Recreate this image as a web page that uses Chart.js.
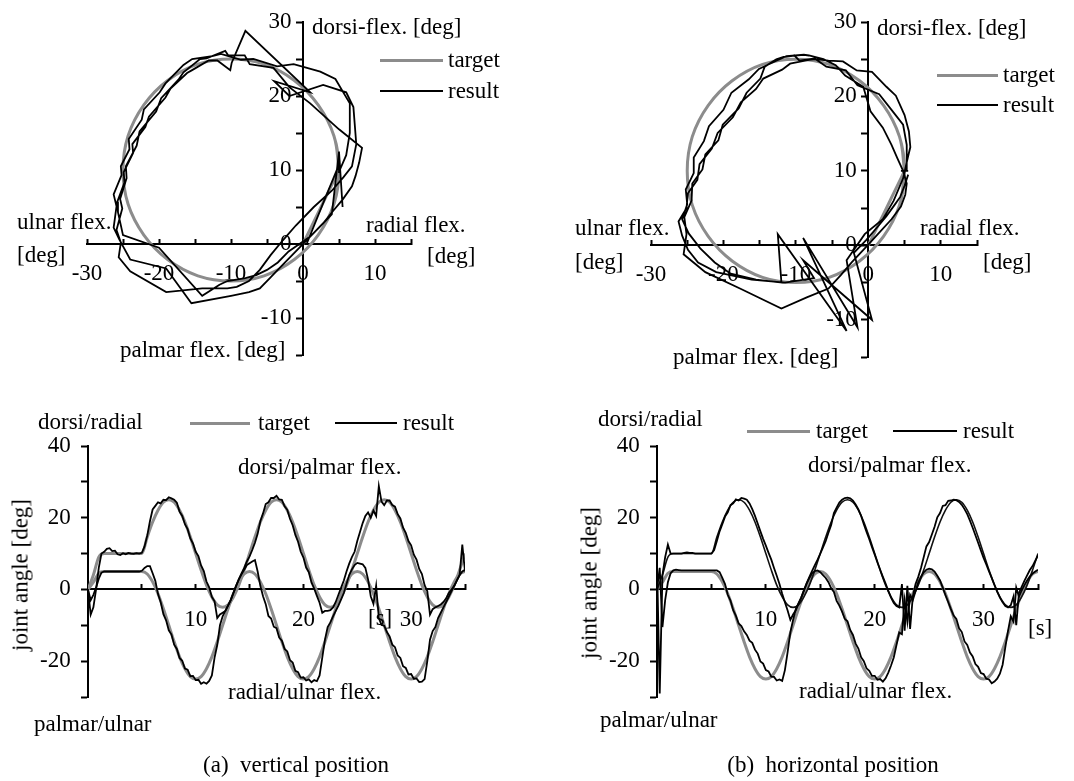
<!DOCTYPE html>
<html>
<head>
<meta charset="utf-8">
<script src="https://cdn.jsdelivr.net/npm/chart.js@4.4.1/dist/chart.umd.min.js"></script>
<style>
  body { margin: 0; background: #fff; width: 1074px; height: 781px; overflow: hidden; position: relative;
         font-family: "Liberation Serif", "Times New Roman", serif; font-size: 23px; color: #000; }
  canvas { position: absolute; left: 0; top: 0; }
  .t { position: absolute; white-space: pre; line-height: 23px; }
  .key { position: absolute; height: 0; border-top: 3px solid #8c8c8c; }
  .key.res { border-top: 2px solid #000; }
  .rot { transform: translate(-50%, -50%) rotate(-90deg); }
  .cap { transform: translateX(-50%); }
</style>
</head>
<body>
<canvas id="topA" width="1074" height="781"></canvas>
<canvas id="topB" width="1074" height="781"></canvas>
<canvas id="botA" width="1074" height="781"></canvas>
<canvas id="botB" width="1074" height="781"></canvas>

<!-- top left -->
<div class="t" style="left:312px;top:15px">dorsi-flex. [deg]</div>
<div class="key" style="left:380px;top:59px;width:63px"></div><div class="t" style="left:448px;top:48px">target</div>
<div class="key res" style="left:380px;top:90px;width:63px"></div><div class="t" style="left:448px;top:79px">result</div>
<div class="t" style="left:17px;top:210px">ulnar flex.</div>
<div class="t" style="left:17px;top:243px">[deg]</div>
<div class="t" style="left:366px;top:213px">radial flex.</div>
<div class="t" style="left:427px;top:244px">[deg]</div>
<div class="t" style="left:120px;top:338px">palmar flex. [deg]</div>

<!-- top right -->
<div class="t" style="left:877px;top:16px">dorsi-flex. [deg]</div>
<div class="key" style="left:937px;top:74px;width:61px"></div><div class="t" style="left:1003px;top:63px">target</div>
<div class="key res" style="left:937px;top:104px;width:61px"></div><div class="t" style="left:1003px;top:93px">result</div>
<div class="t" style="left:575px;top:216px">ulnar flex.</div>
<div class="t" style="left:575px;top:250px">[deg]</div>
<div class="t" style="left:920px;top:216px">radial flex.</div>
<div class="t" style="left:983px;top:250px">[deg]</div>
<div class="t" style="left:673px;top:345px">palmar flex. [deg]</div>

<!-- bottom left -->
<div class="t" style="left:38px;top:410px">dorsi/radial</div>
<div class="key" style="left:190px;top:422px;width:60px"></div><div class="t" style="left:258px;top:411px">target</div>
<div class="key res" style="left:335px;top:422px;width:62px"></div><div class="t" style="left:403px;top:411px">result</div>
<div class="t" style="left:238px;top:455px">dorsi/palmar flex.</div>
<div class="t" style="left:228px;top:680px">radial/ulnar flex.</div>
<div class="t" style="left:34px;top:712px">palmar/ulnar</div>
<div class="t rot" style="left:20px;top:575px">joint angle [deg]</div>
<div class="t" style="left:368px;top:606px">[s]</div>
<div class="t cap" style="left:296px;top:753px">(a)  vertical position</div>

<!-- bottom right -->
<div class="t" style="left:598px;top:407px">dorsi/radial</div>
<div class="key" style="left:747px;top:430px;width:63px"></div><div class="t" style="left:816px;top:419px">target</div>
<div class="key res" style="left:893px;top:430px;width:64px"></div><div class="t" style="left:963px;top:419px">result</div>
<div class="t" style="left:808px;top:453px">dorsi/palmar flex.</div>
<div class="t" style="left:799px;top:679px">radial/ulnar flex.</div>
<div class="t" style="left:600px;top:708px">palmar/ulnar</div>
<div class="t rot" style="left:589px;top:583px">joint angle [deg]</div>
<div class="t" style="left:1028px;top:616px">[s]</div>
<div class="t cap" style="left:833px;top:753px">(b)  horizontal position</div>

<script>
// target trajectory, sampled every 0.5 s from 0 to 35 s
const targetStep = 0.5;
const targetDorsi = [
  0, 4, 9, 10, 10, 10, 10, 10, 10, 10, 10,
  14.6, 18.8, 22.1, 24.3, 25, 24.3, 22.1, 18.8, 14.6, 10, 5.4, 1.2, -2.1, -4.3, -5, -4.3, -2.1, 1.2, 5.4, 10,
  14.6, 18.8, 22.1, 24.3, 25, 24.3, 22.1, 18.8, 14.6, 10, 5.4, 1.2, -2.1, -4.3, -5, -4.3, -2.1, 1.2, 5.4, 10,
  14.6, 18.8, 22.1, 24.3, 25, 24.3, 22.1, 18.8, 14.6, 10, 5.4, 1.2, -2.1, -4.3, -5, -4.3, -2.1, 1.2, 5.4, 10
];
const targetRadial = [
  0, 2, 4.5, 5, 5, 5, 5, 5, 5, 5, 5,
  4.3, 2.1, -1.2, -5.4, -10, -14.6, -18.8, -22.1, -24.3, -25, -24.3, -22.1, -18.8, -14.6, -10, -5.4, -1.2, 2.1, 4.3, 5,
  4.3, 2.1, -1.2, -5.4, -10, -14.6, -18.8, -22.1, -24.3, -25, -24.3, -22.1, -18.8, -14.6, -10, -5.4, -1.2, 2.1, 4.3, 5,
  4.3, 2.1, -1.2, -5.4, -10, -14.6, -18.8, -22.1, -24.3, -25, -24.3, -22.1, -18.8, -14.6, -10, -5.4, -1.2, 2.1, 4.3, 5
];

// measured result, sampled every 0.25 s (one group of four per second)
const resultStep = 0.25;
// (a) vertical position
const vertDorsi = [
  0, -7, -5, 0,   6, 10, 10.5, 11.3,   11.5, 10.7, 10.8, 9.8,   9.6, 10.1, 9.8, 10.2,   10, 9.9, 10.1, 10,
  10.2, 12, 15, 19,   22.3, 23.3, 24.3, 24,   25, 24.9, 25.7, 25.4,   25, 24.2, 21.7, 20.5,   18.2, 16.8, 14.2, 12.8,
  10.5, 9.3, 6.7, 5.1,   2.2, 0.6, -2.1, -3.3,   -8, -7, -6.5, -6,   -4.5, -3, -1, 1,   2.8, 4.5, 6, 7.8,
  9.2, 11, 13, 15.5,   19, 21.2, 23.8, 24.3,   25.5, 25.5, 26.1, 25.1,   25, 23.2, 22.2, 19.7,   17.9, 15.2, 13.3, 10.5,
  8.9, 6.1, 4.8, 1.9,   0.2, -1.8, -3.7, -6.5,   -6, -6, -5.8, -5,   -3.5, -1.5, 0.5, 2.5,   5, 7.2, 9, 10.5,
  13.5, 16, 18.5, 20.5,   21.5, 20, 22, 20.5,   28.8, 24.5, 23.5, 24.8,   24.8, 23.5, 23.1, 21,   19.8, 17.2, 15.8, 13.5,
  12.3, 9.7, 8.3, 5.7,   4.3, 1.2, -0.5, -7,   -5.5, -5, -4.6, -4.2,   -3.5, -2.5, -1, 0,   1, 2.5, 4, 12.5,
  5
];
const vertRadial = [
  0, -3, -1.5, 0.5,   3, 4.7, 5, 5,   5, 5, 5, 5,   5, 5, 5, 5,   5, 5, 5, 5,
  5.2, 6, 6.5, 6.5,   4.5, 2.4, -1.3, -3.6,   -6.9, -8.6, -11.4, -12.6,   -15.4, -16.6, -19.1, -19.9,   -22.1, -22.4, -24.2, -24.1,
  -25.3, -25.2, -26.3, -25.9,   -26.3, -25.5, -24, -19,   -15.5, -10, -7.5, -6,   -4.5, -3, -1, 1,   2.8, 4.2, 5.5, 6.8,
  7.3, 7.8, 8.2, 5,   1, -1.9, -4.1, -7.4,   -8.1, -10.4, -10.8, -13.4,   -14.3, -16.6, -17.3, -19.7,   -20.4, -22.7, -23.1, -24.6,
  -24.5, -25.4, -25.1, -25.9,   -25.3, -25.6, -24, -19,   -14, -10.5, -9.2, -7.5,   -6, -4.5, -2.8, -1,   1.5, 4, 5.6, 6.8,
  7.4, 7.2, 7, 6,   2.8, -1.9, -4, 1,   -8, -9.9, -10.1, -11.9,   -13.1, -15.4, -16.1, -18.4,   -19.1, -21.4, -21.9, -23.7,
  -23.6, -24.9, -24.8, -25.8,   -25.7, -25, -20, -14,   -11.6, -10.5, -8, -6.5,   -5, -3.5, -2, -0.5,   1, 2.5, 4, 5,
  5.5
];
// (b) horizontal position
const horDorsi = [
  8, -29, 4, 9,   12.5, 10, 10, 10,   10, 10, 10.2, 10.3,   10.2, 10.2, 10, 10,   10, 10, 10, 10,
  10, 11, 13.5, 16.2,   18.2, 20.3, 21.5, 23.5,   24, 25.1, 24.8, 25.5,   25.3, 25, 24, 22.4,   20.5, 18.4, 16.2, 14.1,
  12.2, 10.2, 8.3, 6,   3.8, 1.5, -1.2, -3.6,   -5.9, -8.5, -7, -5.8,   -4, -2.3, -0.2, 1.8,   3.5, 5.2, 6.8, 8.3,
  10, 11.7, 13.5, 15.8,   18, 21.3, 22.8, 24.2,   25, 25.5, 25.6, 25.4,   24.8, 23.7, 22.3, 20.5,   18.2, 16, 14, 11.8,
  9.7, 7.5, 5.5, 3.5,   1.6, -0.4, -2.3, -3.8,   -4.6, -5, 1.5, -11.5,   1, -11, -2, 1.5,   3.5, 6, 9, 12,
  13.2, 15.3, 17.5, 20.1,   21.3, 23.3, 23.5, 24.7,   24.8, 25, 24.9, 24.4,   23.6, 22.4, 21, 19.2,   17.2, 15.1, 13, 10.9,
  8.8, 7, 5, 3.2,   1.3, -0.6, -2.3, -3.6,   -4.6, -5, -4.4, -2,   -10, -1, 0.7, 2.4,   3.9, 5.4, 6.5, 8,
  9.5
];
const horRadial = [
  0, 6, -10.5, -3,   2, 4.5, 5.3, 5.5,   5.4, 5.3, 5.3, 5.3,   5.3, 5.3, 5.3, 5.3,   5.3, 5.3, 5.3, 5.3,
  5.3, 5.3, 5.3, 4.8,   3.2, 1.5, -1.5, -3.1,   -5.8, -7.4, -9.5, -10.2,   -11.7, -12.7, -14.3, -14.9,   -16.8, -17.9, -20.1, -20.7,
  -22.5, -22.9, -24.3, -24.4,   -25.4, -25.1, -25.5, -22.5,   -17.5, -12, -8.5, -5.5,   -3.8, -2.3, -0.3, 1.6,   3.2, 4.5, 5.1, 5.3,
  4.8, 4, 3.2, 2,   0.3, -0.7, -3.2, -4.5,   -6.2, -8.2, -8.9, -11.3,   -12.7, -15.1, -16.5, -18.9,   -20, -22, -22.7, -24.1,
  -24.1, -25.2, -25, -25.7,   -24.8, -23.2, -21.2, -19,   -15.5, -12, -12.5, -3,   -9, -1.5, -3, -0.5,   2, 3.5, 4.8, 5.5,
  5.8, 5.6, 5, 3.8,   2.5, 0.5, -1.6, -3.5,   -5.5, -7.3, -8.2, -10.8,   -11.9, -14.5, -15.5, -17.6,   -18.7, -20.8, -21.6, -23.3,
  -23.6, -24.9, -25.1, -26.2,   -25.7, -24.9, -23.5, -21,   -16.1, -11.5, -7.5, -9,   0.5, -2, -0.3, 1.2,   2.5, 3.6, 4.4, 5,
  5.5
];

// axis ranges and tick labels
const orbitX = { min: -30, max: 15, step: 5, labels: [-30, -20, -10, 0, 10] };
const orbitY = { min: -15, max: 30, step: 5, labels: [-10, 0, 10, 20, 30] };
const timeX  = { min: 0, max: 35, step: 5, labels: [10, 20, 30] };
const angleY = { min: -30, max: 40, step: 10, labels: [-20, 0, 20, 40] };

Chart.defaults.font.family = '"Liberation Serif", "Times New Roman", serif';
Chart.defaults.font.size = 23;
Chart.defaults.color = '#000';

const GRAY = '#8c8c8c';

function timeline(values, dt) {
  return values.map((v, i) => ({ x: i * dt, y: v }));
}
function orbit(radial, dorsi, from) {
  return radial.slice(from).map((v, i) => ({ x: v, y: dorsi[from + i] }));
}

// gap: trailing spaces that push right-aligned y labels off the axis line
function axis(r, where, tickLen, pad, gap) {
  return {
    type: 'linear', min: r.min, max: r.max, position: where,
    border: { display: true, color: '#000', width: 2 },
    grid: { drawOnChartArea: false, drawTicks: true, tickLength: tickLen, tickWidth: 2, tickColor: '#000' },
    ticks: {
      stepSize: r.step, autoSkip: false, maxRotation: 0, padding: pad,
      callback: v => r.labels.includes(v) ? String(v) + gap : ''
    }
  };
}

function makeChart(id, area, datasets, xr, yr, xPad, yGap) {
  return new Chart(document.getElementById(id), {
    type: 'line',
    data: { datasets },
    options: {
      responsive: false, animation: false, devicePixelRatio: 1,
      layout: { padding: { left: area.left, top: area.top, right: 1074 - area.right, bottom: 781 - area.bottom } },
      elements: { point: { radius: 0 } },
      plugins: { legend: { display: false }, tooltip: { enabled: false } },
      scales: { x: axis(xr, { y: 0 }, -6, xPad, ''), y: axis(yr, { x: 0 }, 6, 0, yGap) }
    }
  });
}

function line(data, color, width, smooth) {
  const ds = { data, borderColor: color, borderWidth: width, fill: false, pointRadius: 0 };
  if (smooth === 'xy') ds.tension = 0.4;
  else if (smooth) ds.cubicInterpolationMode = 'monotone';
  return ds;
}

makeChart('topA', { left: 87, right: 411, top: 22, bottom: 355 }, [
  line(orbit(vertRadial, vertDorsi, 3), '#000', 1.8),
  line(orbit(targetRadial, targetDorsi, 0), GRAY, 3, 'xy')
], orbitX, orbitY, 22, '  ');

makeChart('topB', { left: 651, right: 977, top: 22, bottom: 357 }, [
  line(orbit(horRadial, horDorsi, 5), '#000', 1.8),
  line(orbit(targetRadial, targetDorsi, 0), GRAY, 3, 'xy')
], orbitX, orbitY, 22, '  ');

makeChart('botA', { left: 88, right: 465, top: 446, bottom: 697 }, [
  line(timeline(vertDorsi, resultStep), '#000', 1.8),
  line(timeline(vertRadial, resultStep), '#000', 1.8),
  line(timeline(targetDorsi, targetStep), GRAY, 3, true),
  line(timeline(targetRadial, targetStep), GRAY, 3, true)
], timeX, angleY, 23, '   ');

makeChart('botB', { left: 657, right: 1038, top: 446, bottom: 697 }, [
  line(timeline(horDorsi, resultStep), '#000', 1.8),
  line(timeline(horRadial, resultStep), '#000', 1.8),
  line(timeline(targetDorsi, targetStep), '#111', 1.6, true),
  line(timeline(targetRadial, targetStep), GRAY, 3, true)
], timeX, angleY, 23, '   ');
</script>
</body>
</html>
